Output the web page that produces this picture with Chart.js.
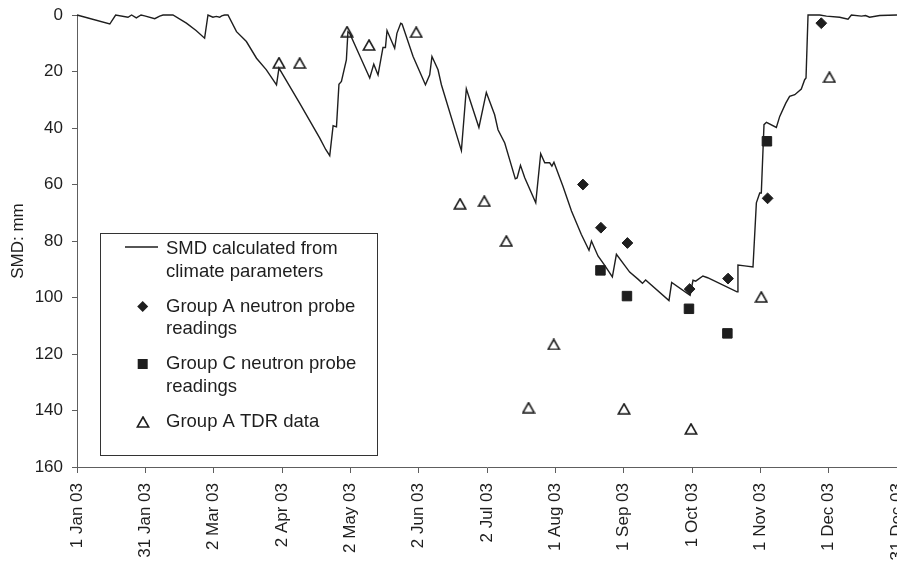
<!DOCTYPE html>
<html>
<head>
<meta charset="utf-8">
<script src="https://cdn.jsdelivr.net/npm/chart.js@4.4.1/dist/chart.umd.min.js"></script>
<style>
  html, body { margin: 0; padding: 0; background: #ffffff; }
  canvas { display: block; }
</style>
</head>
<body>
<canvas id="smdChart" width="897" height="571"></canvas>
<script>
// Axis labels (date ticks, evenly spaced across 2003)
const tickLabels = ['1 Jan 03', '31 Jan 03', '2 Mar 03', '2 Apr 03', '2 May 03', '2 Jun 03',
  '2 Jul 03', '1 Aug 03', '1 Sep 03', '1 Oct 03', '1 Nov 03', '1 Dec 03', '31 Dec 03'];

// Soil moisture deficit from climate parameters (day of year, mm)
const smdDay = [0, 14.6, 17.2, 22.7, 24.3, 26.4, 28.5, 30.1, 34.6, 36.8, 38.3, 42.7, 48.7, 53, 56.8,
  58.3, 60.5, 62, 63.5, 64.4, 65.7, 67.2, 71, 75.4, 79.9, 84.3, 88.8, 89.9, 94.7, 99.1, 108, 110.7,
  112.5, 114, 115.5, 116.6, 117.7, 119.9, 120.6, 121.4, 126.7, 130.3, 132.1, 134, 136.2, 137.3, 138,
  141.4, 142.4, 144.1, 144.7, 149.6, 155.1, 157, 158, 160.7, 162.2, 171.1, 173.3, 175.6, 178.9, 182.2,
  185.9, 187.4, 190.4, 195.1, 195.9, 197.4, 199.3, 204.2, 206.4, 208.2, 210.4, 211.4, 212.3, 216.3,
  220.1, 224.5, 227.9, 229, 231.9, 234.9, 238.3, 240.1, 246, 249.7, 251.7, 253.1, 263.5, 264.7, 272.9,
  274.2, 275.4, 278.6, 280.7, 293.8, 294.2, 297.2, 300.9, 302.4, 303.9, 304.6, 305.8, 306.9, 311.3,
  312.8, 315.5, 317.2, 319.5, 322.4, 323.9, 324.5, 325.4, 330.6, 333.6, 339.5, 343.2, 344.7, 349.2,
  351, 352.8, 357.3, 365];
const smdValue = [0, 3.2, 0, 0.8, 0, 1.0, 0, 0.3, 1.3, 0.4, 0, 0, 2.9, 5.5, 8.2,
  0, 0.8, 0.5, 0.8, 0.3, 0, 0, 5.9, 9.4, 15.3, 19.4, 24.7, 18.8, 25.3, 31.2, 43.5, 47.6,
  49.8, 39.2, 39.6, 24.5, 23.5, 15.9, 5.9, 6.5, 15.9, 22.3, 17.4, 21.2, 11.5, 11.5, 5.5,
  11.8, 6.5, 2.9, 3.2, 14.7, 24.7, 21.2, 14.7, 19.4, 24.7, 48, 26.1, 31.8, 39.8, 27.4,
  35.3, 40.6, 45.3, 58, 57.7, 53.2, 57.6, 66.5, 49.1, 52.3, 52.3, 53.5, 52.1, 60.6,
  69.4, 77.7, 83.3, 80, 85.3, 88.6, 92.7, 84.7, 91, 93.5, 95, 93.8, 101.1, 94.7, 99.2,
  93.9, 94.2, 92.4, 93, 98, 88.5, 88.8, 89.2, 66.5, 63, 63, 38.8, 38, 39.8,
  35.9, 31.2, 28.8, 28.2, 26.2, 22.9, 22.3, 0, 0, 0.4, 0.8, 1.5, 0, 0.4,
  0.2, 0.8, 0.2, 0];

// Group A neutron probe readings
const groupADay = [225.2, 233.2, 245.0, 272.7, 289.8, 307.4, 331.3];
const groupAValue = [60, 75.3, 80.7, 97.0, 93.3, 64.9, 2.9];

// Group C neutron probe readings
const groupCDay = [233.0, 244.8, 272.4, 289.5, 307.1];
const groupCValue = [90.4, 99.5, 104.0, 112.7, 44.7];

// Group A TDR data
const tdrDay = [89.9, 99.1, 120.2, 130, 151, 170.5, 181.3, 191.1, 201, 212.2, 243.5, 273.3, 304.6, 334.9];
const tdrValue = [16.9, 17, 5.9, 10.6, 6.1, 66.8, 65.9, 80, 139, 116.6, 139.4, 146.5, 99.8, 22];

const ink = '#1e1e1e';
const axisGray = '#5e5e5e';
const FONT = "'Liberation Sans', Arial, Helvetica, sans-serif";

const toPoints = (xs, ys) => xs.map((x, i) => ({ x: x, y: ys[i] }));

// Hollow triangle marker, centred on its bounding box
function makeTriangle() {
  const c = document.createElement('canvas');
  c.width = 14; c.height = 12;
  const g = c.getContext('2d');
  g.strokeStyle = ink;
  g.lineWidth = 1.6;
  g.lineJoin = 'miter';
  g.beginPath();
  g.moveTo(7, 1);
  g.lineTo(12.7, 11);
  g.lineTo(1.3, 11);
  g.closePath();
  g.stroke();
  return c;
}
const triangleImg = makeTriangle();

// Boxed legend with wrapped entries, drawn over the plot area
const legendEntries = [
  { kind: 'line', lines: ['SMD calculated from', 'climate parameters'] },
  { kind: 'diamond', lines: ['Group A neutron probe', 'readings'] },
  { kind: 'square', lines: ['Group C neutron probe', 'readings'] },
  { kind: 'triangle', lines: ['Group A TDR data'] }
];

const boxedLegend = {
  id: 'boxedLegend',
  afterDraw(chart) {
    const ctx = chart.ctx;
    const box = { x: 100.5, y: 233.5, w: 277, h: 222 };
    ctx.save();
    ctx.fillStyle = '#ffffff';
    ctx.fillRect(box.x, box.y, box.w, box.h);
    ctx.strokeStyle = '#333333';
    ctx.lineWidth = 1;
    ctx.strokeRect(box.x, box.y, box.w, box.h);

    const markerX = 142.7;
    const textX = 166;
    const firstRow = box.y + 15.5;
    const rowPitch = 57.5;
    const lineGap = 22.5;
    ctx.font = '18.5px ' + FONT;
    ctx.textAlign = 'left';
    ctx.textBaseline = 'middle';
    legendEntries.forEach((entry, i) => {
      const y = firstRow + i * rowPitch;
      ctx.fillStyle = ink;
      ctx.strokeStyle = ink;
      if (entry.kind === 'line') {
        ctx.lineWidth = 1.4;
        ctx.beginPath();
        ctx.moveTo(125, y - 2);
        ctx.lineTo(158, y - 2);
        ctx.stroke();
      } else if (entry.kind === 'diamond') {
        ctx.beginPath();
        ctx.moveTo(markerX, y - 5.5);
        ctx.lineTo(markerX + 5.5, y);
        ctx.lineTo(markerX, y + 5.5);
        ctx.lineTo(markerX - 5.5, y);
        ctx.closePath();
        ctx.fill();
      } else if (entry.kind === 'square') {
        ctx.fillRect(markerX - 5, y - 5, 10, 10);
      } else if (entry.kind === 'triangle') {
        ctx.drawImage(triangleImg, Math.round(markerX - 7), Math.round(y - 6));
      }
      ctx.fillStyle = ink;
      entry.lines.forEach((t, j) => ctx.fillText(t, textX, y + j * lineGap));
    });
    ctx.restore();
  }
};

new Chart(document.getElementById('smdChart'), {
  type: 'scatter',
  data: {
    datasets: [
      {
        label: 'SMD calculated from climate parameters',
        data: toPoints(smdDay, smdValue),
        showLine: true,
        borderColor: ink,
        borderWidth: 1.4,
        pointRadius: 0,
        pointHoverRadius: 0,
        tension: 0,
        clip: false,
        order: 5
      },
      {
        label: 'Group A neutron probe readings',
        data: toPoints(groupADay, groupAValue),
        pointStyle: 'rectRot',
        pointRadius: 5.4,
        backgroundColor: ink,
        borderColor: ink,
        borderWidth: 1,
        order: 2
      },
      {
        label: 'Group C neutron probe readings',
        data: toPoints(groupCDay, groupCValue),
        pointStyle: 'rect',
        pointRadius: 6.7,
        backgroundColor: ink,
        borderColor: ink,
        borderWidth: 1,
        order: 1
      },
      {
        label: 'Group A TDR data',
        data: toPoints(tdrDay, tdrValue),
        pointStyle: triangleImg,
        pointRadius: 6,
        order: 3
      }
    ]
  },
  options: {
    responsive: false,
    animation: false,
    devicePixelRatio: 1,
    events: [],
    layout: { autoPadding: false, padding: { top: 15, right: 0, bottom: 0, left: 0 } },
    plugins: {
      legend: { display: false },
      tooltip: { enabled: false }
    },
    scales: {
      x: {
        type: 'linear',
        min: 0,
        max: 365,
        afterBuildTicks: (scale) => {
          scale.ticks = tickLabels.map((_, i) => ({ value: i * 365 / 12 }));
        },
        afterFit: (scale) => {
          scale.height = 104;
          scale.paddingLeft = 0;
          scale.paddingRight = 0;
        },
        grid: { drawOnChartArea: false, drawTicks: true, tickLength: 6, color: axisGray, lineWidth: 1 },
        border: { display: true, color: axisGray, width: 1 },
        ticks: {
          autoSkip: false,
          maxRotation: 90,
          minRotation: 90,
          padding: 10,
          color: ink,
          font: { family: FONT, size: 17 },
          callback: (value, index) => tickLabels[index]
        }
      },
      y: {
        type: 'linear',
        reverse: true,
        min: 0,
        max: 160,
        afterFit: (scale) => {
          scale.width = 77;
          scale.paddingTop = 0;
          scale.paddingBottom = 0;
        },
        grid: { drawOnChartArea: false, drawTicks: true, tickLength: 5, color: axisGray, lineWidth: 1 },
        border: { display: true, color: axisGray, width: 1 },
        ticks: {
          stepSize: 20,
          padding: 9,
          color: ink,
          font: { family: FONT, size: 17 }
        },
        title: {
          display: true,
          text: 'SMD: mm',
          color: ink,
          font: { family: FONT, size: 17 },
          padding: { top: 8, bottom: 0 }
        }
      }
    }
  },
  plugins: [boxedLegend]
});
</script>
</body>
</html>
